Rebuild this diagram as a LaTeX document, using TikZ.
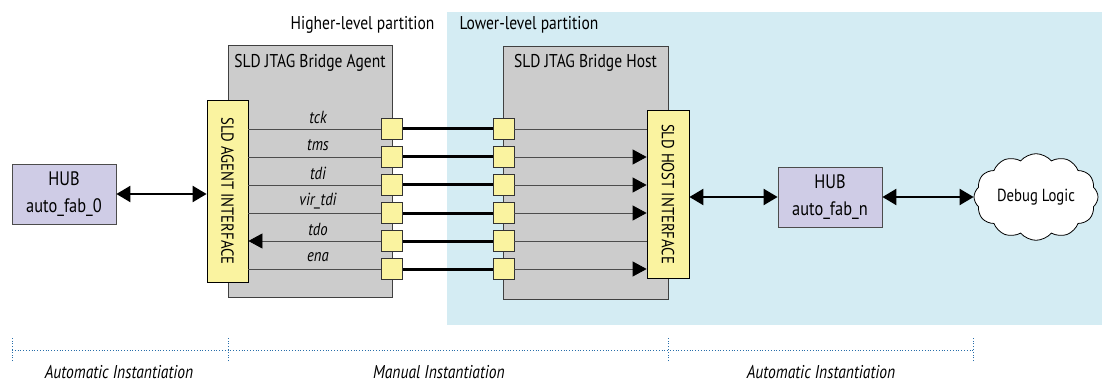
\documentclass[tikz,border=0pt]{standalone}
\usepackage{fontspec}
\setmainfont[FakeStretch=0.84]{PT Sans}
\usetikzlibrary{shapes.symbols,arrows.meta}
\definecolor{bgblue}{RGB}{212,236,243}
\definecolor{boxgray}{RGB}{204,204,204}
\definecolor{ifyellow}{RGB}{250,243,160}
\definecolor{hubpurple}{RGB}{207,204,230}
\definecolor{dotblue}{RGB}{40,110,170}
\begin{document}
\begin{tikzpicture}[x=1pt,y=-1pt,
  font=\fontsize{18.5}{20}\selectfont,
  graybox/.style={draw=black!75, fill=boxgray, line width=0.8pt, inner sep=0},
  ifbox/.style={draw=black, fill=ifyellow, line width=0.8pt, inner sep=0},
  iflabel/.style={rotate=-90, font=\fontsize{17.5}{19}\selectfont},
  port/.style={draw=black!80, fill=ifyellow, line width=0.8pt, minimum size=21pt, inner sep=0},
  hub/.style={draw=black!70, fill=hubpurple, line width=0.8pt, align=center, inner sep=0,
    minimum width=104pt, minimum height=60pt, font=\fontsize{19.5}{27}\selectfont},
  sig/.style={draw=black!70, line width=0.8pt},
  link/.style={line width=3pt},
  tip/.style={sig, -{Triangle[length=14pt,width=15pt,color=black]}},
  dbl/.style={line width=2.2pt, {Triangle[length=14pt,width=16pt]}-{Triangle[length=14pt,width=16pt]}},
  siglabel/.style={font=\fontsize{17.5}{18}\selectfont\itshape},
  instr/.style={draw=dotblue, line width=0.8pt, dotted},
  instrlabel/.style={font=\fontsize{18.5}{20}\selectfont\itshape, inner sep=0, anchor=base}
]
\useasboundingbox[fill=white] (0,0) rectangle (1102,382);
% lower-level partition background
\fill[bgblue] (447,12) rectangle (1102,325);
\node[anchor=east] (hlp) at (438,25) {Higher-level partition};
\node[anchor=west] (llp) at (456,25) {Lower-level partition};

% bridge boxes
\node[graybox, minimum width=164pt, minimum height=252pt] (agent) at (310,171) {};
\node[graybox, minimum width=165pt, minimum height=253pt] (host) at (585.5,172.5) {};
\node (agentt) at (310,63) {SLD JTAG Bridge Agent};
\node (hostt) at (585.5,63) {SLD JTAG Bridge Host};

% interfaces
\node[ifbox, minimum width=41pt, minimum height=182pt] (ai) at (227.5,191) {};
\node[iflabel] (ail) at (ai.center) {SLD AGENT INTERFACE};
\node[ifbox, minimum width=42pt, minimum height=168pt] (hi) at (668,194) {};
\node[iflabel] (hil) at (hi.center) {SLD HOST INTERFACE};

% ports and signals
\foreach \i/\y/\lab in {1/129/tck,2/157/tms,3/185/tdi,4/213/vir\_tdi,5/241/tdo,6/269/ena}{
  \node[port] (pa\i) at (392,\y) {};
  \node[port] (ph\i) at (503.5,\y) {};
  \node[siglabel] (sl\i) at (318,\y-12) {\lab};
  \draw[link] (pa\i.east) -- (ph\i.west);
}
% agent side lines
\draw[sig] (ai.east |- pa1) -- (pa1.west);
\draw[sig] (ai.east |- pa2) -- (pa2.west);
\draw[sig] (ai.east |- pa3) -- (pa3.west);
\draw[sig] (ai.east |- pa4) -- (pa4.west);
\draw[tip] (pa5.west) -- (ai.east |- pa5);
\draw[sig] (ai.east |- pa6) -- (pa6.west);
% host side lines
\draw[sig] (ph1.east) -- (hi.west |- ph1);
\draw[tip] (ph2.east) -- (hi.west |- ph2);
\draw[tip] (ph3.east) -- (hi.west |- ph3);
\draw[tip] (ph4.east) -- (hi.west |- ph4);
\draw[sig] (ph5.east) -- (hi.west |- ph5);
\draw[tip] (ph6.east) -- (hi.west |- ph6);

% hubs and cloud
\node[hub] (hub0) at (64,194) {HUB\\auto\_fab\_0};
\node[hub] (hubn) at (830,197) {HUB\\auto\_fab\_n};
\node[cloud, draw=black, fill=white, line width=0.8pt, cloud puffs=12, cloud puff arc=100,
  aspect=1.45, minimum width=124pt, minimum height=86pt, inner sep=0,
  font=\fontsize{17.5}{19}\selectfont] (dbg) at (1036,197) {Debug Logic};
\draw[dbl] (hub0.east) -- (ai.west |- hub0.east);
\draw[dbl] (hi.east |- hubn.west) -- (hubn.west);
\draw[dbl] (hubn.east) -- (dbg.west);

% instantiation ranges
\coordinate (t0) at (12,350);
\coordinate (t1) at (228,350);
\coordinate (t2) at (668,350);
\coordinate (t3) at (973,350);
\draw[instr] (t0) -- (t3);
\foreach \t in {t0,t1,t2,t3}{
  \draw[instr] ([yshift=-11pt]\t) -- ([yshift=12pt]\t);
}
\node[instrlabel] (ia1) at (119,378) {Automatic Instantiation};
\node[instrlabel] (ia2) at (439,378) {Manual Instantiation};
\node[instrlabel] (ia3) at (821,378) {Automatic Instantiation};
\end{tikzpicture}
\end{document}
